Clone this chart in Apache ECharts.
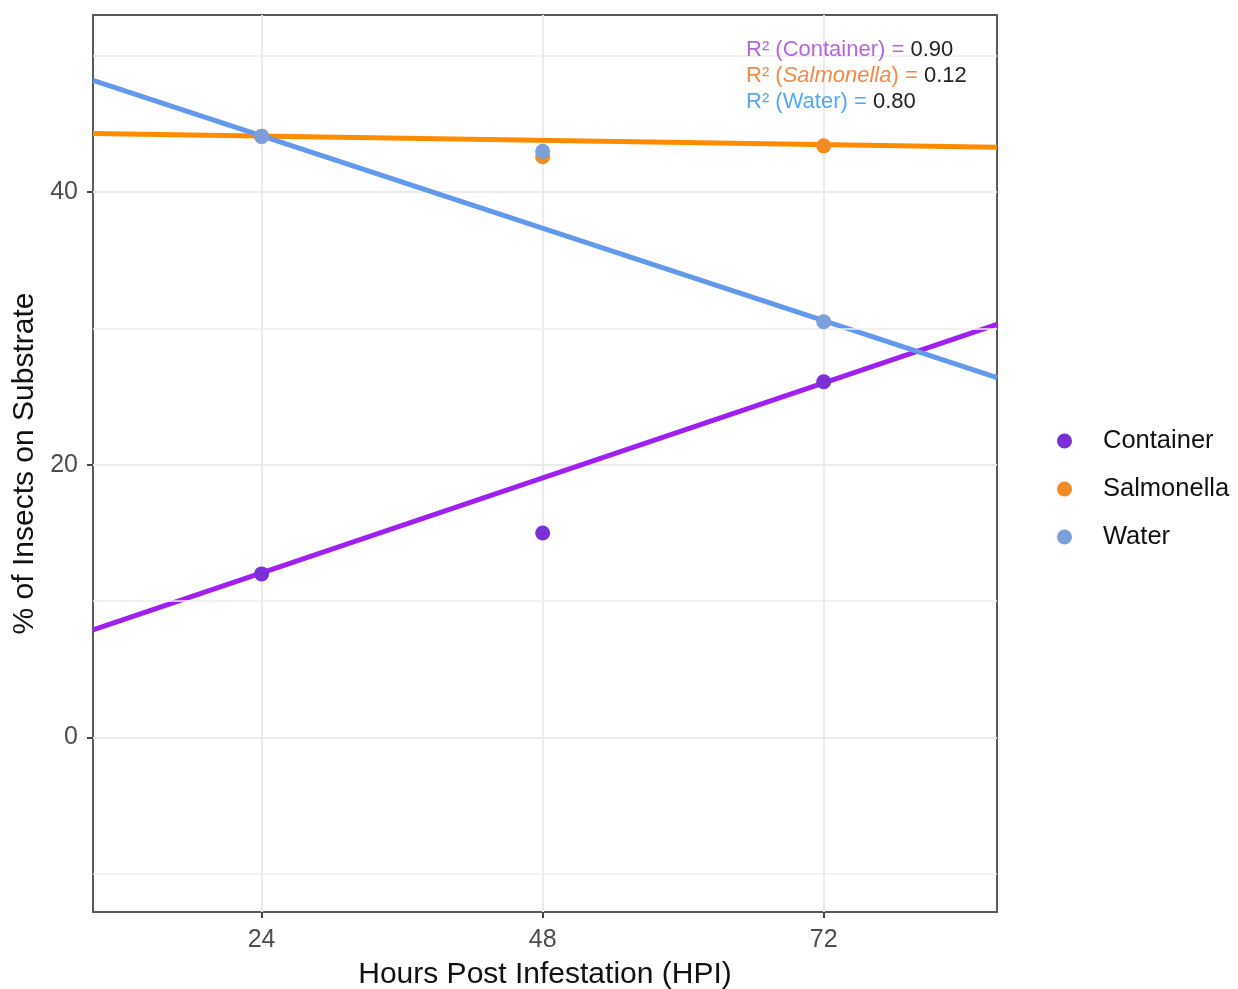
<!DOCTYPE html>
<html>
<head>
<meta charset="utf-8">
<script src="https://cdn.jsdelivr.net/npm/echarts@6/dist/echarts.min.js"></script>
<style>
  html, body { margin: 0; padding: 0; background: #fff; }
  #chart { width: 1238px; height: 989px; }
</style>
</head>
<body>
<div id="chart"></div>
<script>
// Observation times (hours post infestation)
const hours = [24, 48, 72];
const groups = ['Container', 'Salmonella', 'Water'];

// Mean % of insects on each substrate
const containerPct = [12.0, 15.0, 26.1];
const salmonellaPct = [44.1, 42.6, 43.4];
const waterPct = [44.1, 43.0, 30.5];

// Fitted regression lines, evaluated at the ends of the x range
const xRange = [9.6, 86.8];
const containerFit = [7.9, 30.3];
const salmonellaFit = [44.3, 43.3];
const waterFit = [48.2, 26.4];

// R² of each fit
const rSquared = ['0.90', '0.12', '0.80'];

// Axis ranges and breaks
const yRange = [-12.8, 53.0];
const xTicks = [24, 48, 72];
const yTicks = [0, 20, 40];
const yMinorGrid = [-10, 10, 30, 50];

const font = "'Liberation Sans', Arial, sans-serif";
const pointColors = ['#7b2fd6', '#f28a25', '#7b9fd8'];
const lineColors = ['#a020f0', '#ff8c00', '#6399ec'];
const labelColors = ['#b565e0', '#f08a48', '#55a8f0'];

const pointSets = [containerPct, salmonellaPct, waterPct];
const fitSets = [containerFit, salmonellaFit, waterFit];

const pairs = (xs, ys) => xs.map((x, i) => [x, ys[i]]);

const fitSeries = groups.map((g, i) => ({
  name: g + ' fit',
  type: 'line',
  data: pairs(xRange, fitSets[i]),
  symbol: 'none',
  silent: true,
  z: 3,
  lineStyle: { color: lineColors[i], width: 5 },
  markLine: i === 0 ? {
    silent: true,
    symbol: 'none',
    label: { show: false },
    lineStyle: { color: '#eeeeee', width: 1.5, type: 'solid' },
    data: yMinorGrid.map(v => ({ yAxis: v }))
  } : undefined
}));

const pointSeries = groups.map((g, i) => ({
  name: g,
  type: 'scatter',
  data: pairs(hours, pointSets[i]),
  symbol: 'circle',
  symbolSize: 15,
  z: 5,
  itemStyle: { color: pointColors[i], opacity: 1 }
}));

const annFont = 22;
const annLine = 26;
const annotation = {
  type: 'text',
  left: 746,
  top: 37,
  z: 20,
  style: {
    text: [
      '{c|R² (Container) = }{k|' + rSquared[0] + '}',
      '{s|R² (}{si|Salmonella}{s|) = }{k|' + rSquared[1] + '}',
      '{w|R² (Water) = }{k|' + rSquared[2] + '}'
    ].join('\n'),
    font: annFont + 'px ' + font,
    lineHeight: annLine,
    rich: {
      c: { fill: labelColors[0], fontSize: annFont, fontFamily: font, lineHeight: annLine },
      s: { fill: labelColors[1], fontSize: annFont, fontFamily: font, lineHeight: annLine },
      si: { fill: labelColors[1], fontSize: annFont, fontFamily: font, fontStyle: 'italic', lineHeight: annLine },
      w: { fill: labelColors[2], fontSize: annFont, fontFamily: font, lineHeight: annLine },
      k: { fill: '#222222', fontSize: annFont, fontFamily: font, lineHeight: annLine }
    }
  }
};

const chart = echarts.init(document.getElementById('chart'), null, { renderer: 'canvas' });
chart.setOption({
  animation: false,
  backgroundColor: '#ffffff',
  textStyle: { fontFamily: font },
  grid: {
    left: 93, right: 241, top: 15, bottom: 77,
    containLabel: false,
    outerBoundsMode: 'none',
    show: true, borderColor: '#5a5a5a', borderWidth: 2, backgroundColor: 'transparent'
  },
  xAxis: {
    type: 'value',
    min: xRange[0],
    max: xRange[1],
    name: 'Hours Post Infestation (HPI)',
    nameLocation: 'middle',
    nameGap: 48,
    nameTextStyle: { fontSize: 30, color: '#111', fontFamily: font },
    axisLine: { show: false, onZero: false },
    axisTick: { show: true, customValues: xTicks, length: 6, lineStyle: { color: '#444', width: 2 } },
    axisLabel: { customValues: xTicks, fontSize: 25, color: '#4d4d4d', margin: 16, fontFamily: font },
    splitLine: { show: true, lineStyle: { color: '#ebebeb', width: 2 } }
  },
  yAxis: {
    type: 'value',
    min: yRange[0],
    max: yRange[1],
    name: '% of Insects on Substrate',
    nameLocation: 'middle',
    nameGap: 44,
    nameTextStyle: { fontSize: 30, color: '#111', fontFamily: font },
    axisLine: { show: false, onZero: false },
    axisTick: { show: true, customValues: yTicks, length: 6, lineStyle: { color: '#444', width: 2 } },
    axisLabel: { customValues: yTicks, fontSize: 25, color: '#4d4d4d', margin: 15, fontFamily: font },
    splitLine: { show: true, lineStyle: { color: '#ebebeb', width: 2 } }
  },
  legend: {
    orient: 'vertical',
    left: 1052,
    top: 423,
    data: groups,
    icon: 'circle',
    itemWidth: 15,
    itemHeight: 15,
    itemGap: 22,
    textStyle: { fontSize: 25.5, color: '#111', fontFamily: font, padding: [0, 0, 0, 26] }
  },
  graphic: [annotation],
  series: [...fitSeries, ...pointSeries]
});
</script>
</body>
</html>
